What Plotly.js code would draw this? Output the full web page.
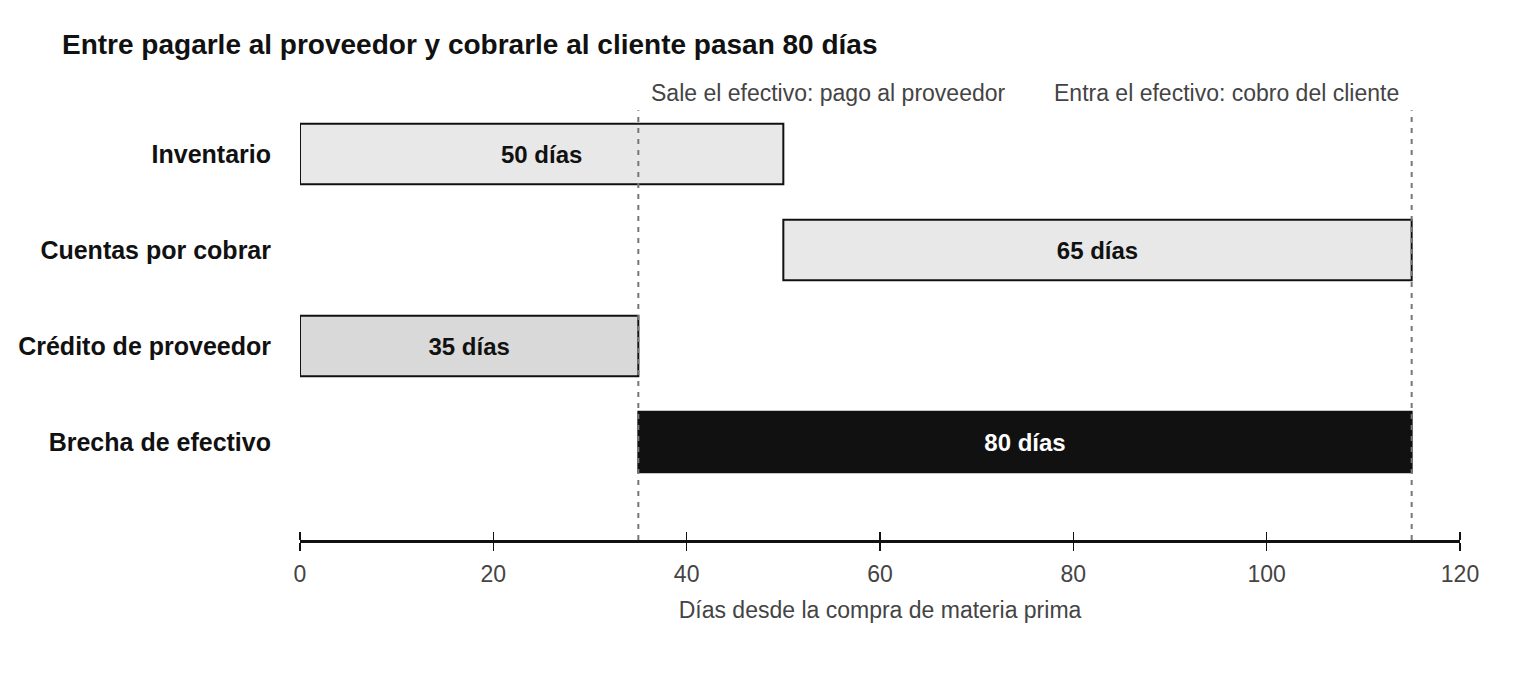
<!DOCTYPE html>
<html>
<head>
<meta charset="utf-8">
<script src="https://cdn.plot.ly/plotly-3.0.1.min.js"></script>
<style>
  html, body { margin: 0; padding: 0; background: #fff; }
  #graph { width: 1520px; height: 680px; }
</style>
</head>
<body>
<div id="graph"></div>
<script>
var etapas = ['Inventario', 'Cuentas por cobrar', 'Crédito de proveedor', 'Brecha de efectivo'];
var inicios = [0, 50, 0, 35];
var dias = [50, 65, 35, 80];
var relleno = ['#e8e8e8', '#e8e8e8', '#d9d9d9', '#111111'];
var colorTexto = ['#111111', '#111111', '#111111', '#ffffff'];
var pagoProveedor = 35;
var cobroCliente = 115;
var xTicks = [0, 20, 40, 60, 80, 100, 120];

var fuente = 'Liberation Sans, Arial, Helvetica, sans-serif';

var barras = {
    type: 'bar',
    orientation: 'h',
    y: etapas,
    x: dias,
    base: inicios,
    width: 0.63,
    marker: { color: relleno, line: { color: '#111111', width: 2 } },
    text: dias.map(function (d) { return d + ' días'; }),
    textposition: 'inside',
    insidetextanchor: 'middle',
    textfont: { family: fuente, size: 24, color: colorTexto, weight: 'bold' },
    hoverinfo: 'skip',
    showlegend: false
};

// eje fantasma para que las marcas crucen la línea del eje
var marcas = {
    type: 'scatter',
    x: [0, 120],
    y: [etapas[0], etapas[0]],
    xaxis: 'x2',
    mode: 'none',
    hoverinfo: 'skip',
    showlegend: false
};

var lineaPunteada = function (x) {
    return {
        type: 'line', xref: 'x', yref: 'paper',
        x0: x, x1: x, y0: 0, y1: 0.99,
        line: { color: '#777777', width: 2, dash: '5px,6px' },
        layer: 'above'
    };
};

var layout = {
    width: 1520,
    height: 680,
    margin: { l: 300, r: 60, t: 106, b: 140 },
    paper_bgcolor: '#ffffff',
    plot_bgcolor: '#ffffff',
    font: { family: fuente, color: '#444444' },
    title: {
        text: 'Entre pagarle al proveedor y cobrarle al cliente pasan 80 días',
        font: { family: fuente, size: 28, color: '#111111', weight: 'bold' },
        xref: 'container', x: 62 / 1520, xanchor: 'left',
        yref: 'container', y: 1 - 44 / 680, yanchor: 'middle'
    },
    xaxis: {
        range: [0, 120],
        tickvals: xTicks,
        ticks: 'outside',
        ticklen: 8,
        tickwidth: 1.5,
        tickcolor: '#111111',
        showline: true,
        linecolor: '#111111',
        linewidth: 2.5,
        showgrid: false,
        zeroline: false,
        ticklabelstandoff: 4,
        tickfont: { family: fuente, size: 23, color: '#444444' },
        title: {
            text: 'Días desde la compra de materia prima',
            font: { family: fuente, size: 23, color: '#444444' },
            standoff: 16
        }
    },
    xaxis2: {
        overlaying: 'x',
        anchor: 'free',
        position: 0,
        side: 'top',
        range: [0, 120],
        tickvals: xTicks,
        ticks: 'outside',
        ticklen: 8,
        tickwidth: 1.5,
        tickcolor: '#111111',
        showticklabels: false,
        showgrid: false,
        zeroline: false,
        showline: false
    },
    yaxis: {
        type: 'category',
        range: [4.02, -0.5],
        showgrid: false,
        zeroline: false,
        showline: false,
        ticks: '',
        ticklabelstandoff: 28,
        tickfont: { family: fuente, size: 25, color: '#111111', weight: 'bold' }
    },
    shapes: [lineaPunteada(pagoProveedor), lineaPunteada(cobroCliente)],
    annotations: [
        {
            text: 'Sale el efectivo: pago al proveedor',
            xref: 'x', yref: 'paper', x: pagoProveedor, y: 1.03,
            xanchor: 'left', yanchor: 'middle', xshift: 11, showarrow: false,
            font: { family: fuente, size: 23, color: '#444444' }
        },
        {
            text: 'Entra el efectivo: cobro del cliente',
            xref: 'x', yref: 'paper', x: cobroCliente, y: 1.03,
            xanchor: 'right', yanchor: 'middle', xshift: -11, showarrow: false,
            font: { family: fuente, size: 23, color: '#444444' }
        }
    ]
};

Plotly.newPlot('graph', [barras, marcas], layout, { staticPlot: true, displayModeBar: false });
</script>
</body>
</html>
